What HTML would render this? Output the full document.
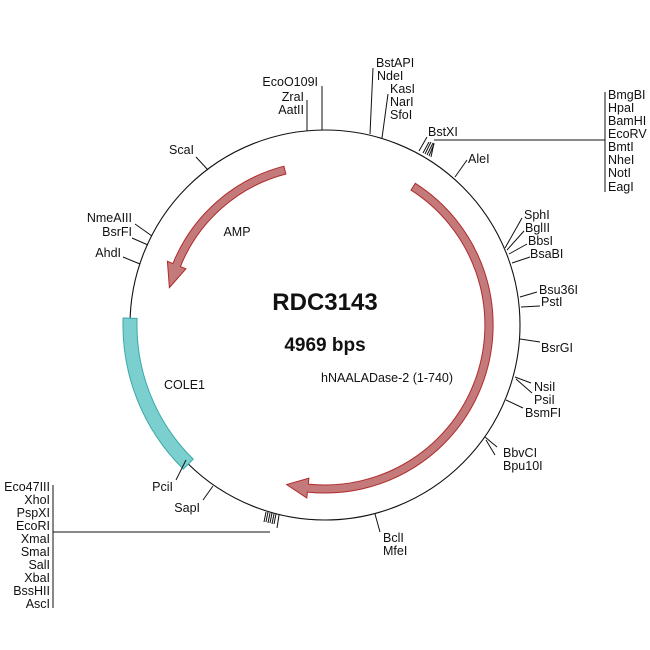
<!DOCTYPE html>
<html><head><meta charset="utf-8"><style>
html,body{margin:0;padding:0;background:#fff;}
svg{display:block;font-family:"Liberation Sans",Arial,sans-serif;}
text{font-size:12.5px;fill:#111;}
</style></head><body>
<svg id="s" width="650" height="650" viewBox="0 0 650 650" xmlns="http://www.w3.org/2000/svg">
<circle cx="325" cy="325" r="195" fill="none" stroke="#111" stroke-width="1.1"/>
<g id="feat"></g>
<g stroke="#111" stroke-width="1" fill="none">
<line x1="322" y1="130" x2="322" y2="86"/>
<line x1="307" y1="131" x2="307" y2="100"/>
<line x1="370" y1="134" x2="373" y2="68"/>
<line x1="382" y1="138" x2="388" y2="94"/>
<line x1="419" y1="151" x2="427" y2="137"/>
<line x1="423" y1="153" x2="429" y2="142"/>
<line x1="425" y1="154" x2="431" y2="142"/>
<line x1="427" y1="155" x2="433" y2="143"/>
<line x1="429" y1="156" x2="434" y2="144"/>
<line x1="431" y1="157" x2="434" y2="143"/>
<line x1="434" y1="140" x2="605" y2="140"/>
<line x1="605" y1="92" x2="605" y2="192"/>
<line x1="455" y1="177" x2="467" y2="160"/>
<line x1="505" y1="248" x2="522" y2="218"/>
<line x1="507" y1="250" x2="524" y2="231"/>
<line x1="509" y1="254" x2="527" y2="244"/>
<line x1="512" y1="263" x2="530" y2="257"/>
<line x1="520" y1="297" x2="537" y2="292"/>
<line x1="521" y1="307" x2="540" y2="306"/>
<line x1="520" y1="339" x2="540" y2="342"/>
<line x1="515" y1="377" x2="531" y2="383"/>
<line x1="516" y1="379" x2="532" y2="393"/>
<line x1="506" y1="400" x2="523" y2="408"/>
<line x1="485" y1="437" x2="497" y2="447"/>
<line x1="486" y1="440" x2="495" y2="455"/>
<line x1="375" y1="514" x2="380" y2="532"/>
<line x1="186" y1="460" x2="176" y2="480"/>
<line x1="213" y1="486" x2="203" y2="500"/>
<line x1="266" y1="512" x2="264" y2="522"/>
<line x1="268" y1="512" x2="266" y2="522"/>
<line x1="270" y1="513" x2="268" y2="523"/>
<line x1="272" y1="513" x2="270" y2="523"/>
<line x1="274" y1="514" x2="272" y2="524"/>
<line x1="276" y1="514" x2="274" y2="524"/>
<line x1="279" y1="515" x2="277" y2="528"/>
<line x1="270" y1="532" x2="53" y2="532"/>
<line x1="53" y1="485" x2="53" y2="608"/>
<line x1="208" y1="170" x2="196" y2="157"/>
<line x1="152" y1="236" x2="135" y2="224"/>
<line x1="148" y1="245" x2="132" y2="238"/>
<line x1="140" y1="264" x2="123" y2="257"/>
</g>
<g>
<text x="318" y="86" text-anchor="end">EcoO109I</text>
<text x="304" y="101" text-anchor="end">ZraI</text>
<text x="304" y="114" text-anchor="end">AatII</text>
<text x="376" y="67">BstAPI</text>
<text x="377" y="80">NdeI</text>
<text x="390" y="93">KasI</text>
<text x="390" y="106">NarI</text>
<text x="390" y="119">SfoI</text>
<text x="428" y="136">BstXI</text>
<text x="468" y="163">AleI</text>
<text x="608" y="99">BmgBI</text>
<text x="608" y="112">HpaI</text>
<text x="608" y="125">BamHI</text>
<text x="608" y="138">EcoRV</text>
<text x="608" y="151">BmtI</text>
<text x="608" y="164">NheI</text>
<text x="608" y="177">NotI</text>
<text x="608" y="191">EagI</text>
<text x="524" y="219">SphI</text>
<text x="525" y="232">BglII</text>
<text x="528" y="245">BbsI</text>
<text x="530" y="258">BsaBI</text>
<text x="539" y="294">Bsu36I</text>
<text x="541" y="306">PstI</text>
<text x="541" y="352">BsrGI</text>
<text x="534" y="391">NsiI</text>
<text x="534" y="404">PsiI</text>
<text x="525" y="417">BsmFI</text>
<text x="503" y="457">BbvCI</text>
<text x="503" y="470">Bpu10I</text>
<text x="383" y="542">BclI</text>
<text x="383" y="555">MfeI</text>
<text x="173" y="491" text-anchor="end">PciI</text>
<text x="200" y="512" text-anchor="end">SapI</text>
<text x="50" y="491" text-anchor="end">Eco47III</text>
<text x="50" y="504" text-anchor="end">XhoI</text>
<text x="50" y="517" text-anchor="end">PspXI</text>
<text x="50" y="530" text-anchor="end">EcoRI</text>
<text x="50" y="543" text-anchor="end">XmaI</text>
<text x="50" y="556" text-anchor="end">SmaI</text>
<text x="50" y="569" text-anchor="end">SalI</text>
<text x="50" y="582" text-anchor="end">XbaI</text>
<text x="50" y="595" text-anchor="end">BssHII</text>
<text x="50" y="608" text-anchor="end">AscI</text>
<text x="194" y="154" text-anchor="end">ScaI</text>
<text x="132" y="222" text-anchor="end">NmeAIII</text>
<text x="132" y="236" text-anchor="end">BsrFI</text>
<text x="121" y="257" text-anchor="end">AhdI</text>
<text x="237" y="236" text-anchor="middle">AMP</text>
<text x="164" y="389">COLE1</text>
<text x="321" y="382">hNAALADase-2 (1-740)</text>
<text x="325" y="310" text-anchor="middle" style="font-size:24px;font-weight:bold">RDC3143</text>
<text x="325" y="351" text-anchor="middle" style="font-size:19px;font-weight:bold">4969 bps</text>
</g>
</svg>
<script>
(function(){
var cx=325,cy=325;
function P(r,a){a=a*Math.PI/180;return [cx+r*Math.sin(a),cy-r*Math.cos(a)];}
function f(p){return p[0].toFixed(1)+","+p[1].toFixed(1);}
function band(r1,r2,a1,a2){
 var large=(a2-a1)>180?1:0;
 return "M"+f(P(r2,a1))+" A"+r2+","+r2+" 0 "+large+" 1 "+f(P(r2,a2))+" L"+f(P(r1,a2))+" A"+r1+","+r1+" 0 "+large+" 0 "+f(P(r1,a1))+"Z";
}
function arrowCW(r,w,a1,a2,tip,hw){
 var r1=r-w/2,r2=r+w/2,large=(a2-a1)>180?1:0;
 return "M"+f(P(r2,a1))+" A"+r2+","+r2+" 0 "+large+" 1 "+f(P(r2,a2))+" L"+f(P(r+hw,a2))+" L"+f(P(r,tip))+" L"+f(P(r-hw,a2))+" L"+f(P(r1,a2))+" A"+r1+","+r1+" 0 "+large+" 0 "+f(P(r1,a1))+"Z";
}
function arrowCCW(r,w,a1,a2,tip,hw){
 var r1=r-w/2,r2=r+w/2,large=(a1-a2)>180?1:0;
 return "M"+f(P(r2,a1))+" A"+r2+","+r2+" 0 "+large+" 0 "+f(P(r2,a2))+" L"+f(P(r+hw,a2))+" L"+f(P(r,tip))+" L"+f(P(r-hw,a2))+" L"+f(P(r1,a2))+" A"+r1+","+r1+" 0 "+large+" 1 "+f(P(r1,a1))+"Z";
}
var g=document.getElementById("feat"),ns="http://www.w3.org/2000/svg";
function add(d,fill,stroke){var p=document.createElementNS(ns,"path");p.setAttribute("d",d);p.setAttribute("fill",fill);p.setAttribute("stroke",stroke);p.setAttribute("stroke-width","1");g.appendChild(p);}
add(band(188,202,-135.5,-88),"#7ccfcf","#3aa9a9");
add(arrowCCW(160,8,-14.5,-68,-76.5,10),"#c47a7a","#b02a2a");
add(arrowCW(164,8,32.5,186,193.5,10),"#c47a7a","#b02a2a");
})();
</script>
</body></html>
